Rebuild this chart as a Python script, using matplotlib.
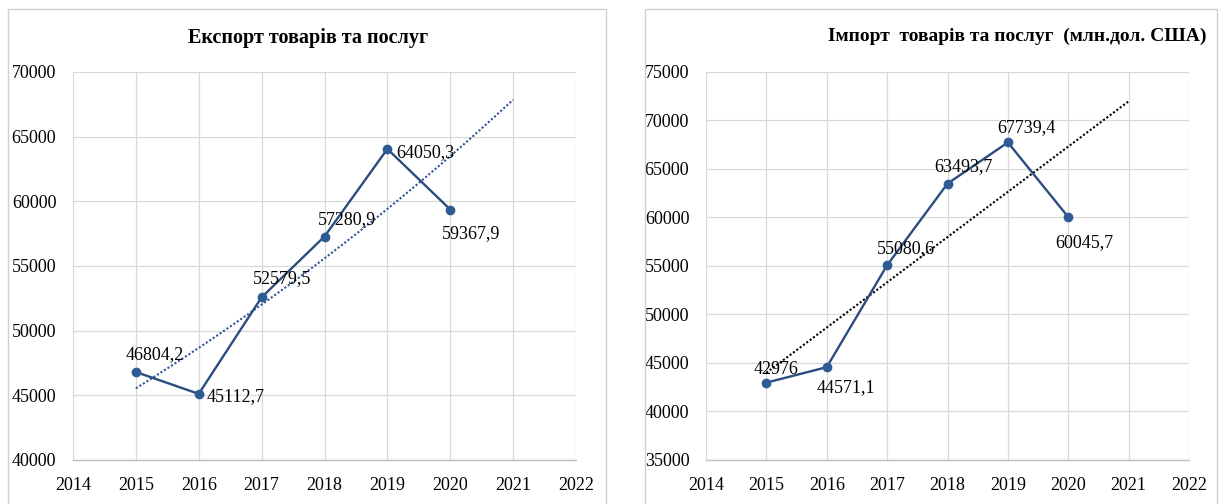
import numpy as np
import matplotlib
matplotlib.use("Agg")
import matplotlib.pyplot as plt
from matplotlib.patches import Rectangle

years = [2015, 2016, 2017, 2018, 2019, 2020]
export_vals = [46804.2, 45112.7, 52579.5, 57280.9, 64050.3, 59367.9]
import_vals = [42976, 44571.1, 55080.6, 63493.7, 67739.4, 60045.7]
export_labels = ["46804,2", "45112,7", "52579,5", "57280,9", "64050,3", "59367,9"]
import_labels = ["42976", "44571,1", "55080,6", "63493,7", "67739,4", "60045,7"]
x_ticks = [2014, 2015, 2016, 2017, 2018, 2019, 2020, 2021, 2022]
export_yticks = [40000, 45000, 50000, 55000, 60000, 65000, 70000]
import_yticks = [35000, 40000, 45000, 50000, 55000, 60000, 65000, 70000, 75000]
export_title = "Експорт товарів та послуг"
import_title = "Імпорт  товарів та послуг  (млн.дол. США)"

# label offsets in pixels (dx, dy)
export_offsets = [(19, 17), (37, -3), (20, 19), (22, 17), (38, -4), (21, -24)]
import_offsets = [(10, 13), (19, -20), (19, 17), (16, 17), (18, 15), (16, -26)]

W, H = 1221, 504
fig = plt.figure(figsize=(W / 100, H / 100), dpi=100)
fig.patch.set_facecolor("white")
plt.rcParams['font.family'] = ['Liberation Serif', 'DejaVu Serif']

# panel borders
for x0, x1 in [(8, 606), (645, 1217)]:
    fig.add_artist(Rectangle((x0 / W, 0 - 0.02), (x1 - x0) / W, (H - 9) / H + 0.02,
                             transform=fig.transFigure, fill=False,
                             edgecolor="#D0D0D0", linewidth=1.0))

line_c = "#2B4C7E"
mark_c = "#2F5B95"

def make_ax(px_left, px_right, yticks, vals, labels, offsets, title, title_x, title_y,
            title_ha, title_size, trend_kind, trend_color):
    ax = fig.add_axes([px_left / W, 1 - 460 / H, (px_right - px_left) / W, (460 - 72) / H])
    ax.set_xlim(x_ticks[0], x_ticks[-1])
    ax.set_ylim(yticks[0], yticks[-1])
    ax.set_xticks(x_ticks)
    ax.set_yticks(yticks)
    ax.set_xticklabels([str(t) for t in x_ticks])
    ax.set_yticklabels([str(t) for t in yticks])
    ax.tick_params(length=0, labelsize=13, colors="#000000")
    ax.tick_params(axis="y", pad=12)
    ax.tick_params(axis="x", pad=12)
    for s in ["top", "right", "left"]:
        ax.spines[s].set_visible(False)
    ax.spines["bottom"].set_color("#BFBFBF")
    ax.spines["bottom"].set_linewidth(1.0)
    ax.grid(True, color="#D9D9D9", linewidth=0.9)
    ax.set_axisbelow(True)

    x = np.array(years, dtype=float)
    y = np.array(vals, dtype=float)
    xi = x - x[0]
    xs = np.linspace(years[0], 2021, 100)
    if trend_kind == "exp":
        b, a = np.polyfit(xi, np.log(y), 1)
        ys = np.exp(a + b * (xs - x[0]))
    else:
        b, a = np.polyfit(xi, y, 1)
        ys = a + b * (xs - x[0])
    ax.plot(xs, ys, linestyle=(0, (1, 1.0)), color=trend_color, linewidth=1.5, zorder=2)

    ax.plot(years, vals, color=line_c, linewidth=1.7, zorder=3)
    ax.plot(years, vals, linestyle="none", marker="o", markersize=6,
            markerfacecolor=mark_c, markeredgecolor=mark_c, zorder=4)
    for xv, yv, lab, (dx, dy) in zip(years, vals, labels, offsets):
        ax.annotate(lab, (xv, yv), xytext=(dx, dy), textcoords="offset pixels",
                    ha="center", va="center", fontsize=13, color="#000000", zorder=5)
    fig.text(title_x / W, 1 - title_y / H, title, ha=title_ha, va="center",
             fontsize=title_size, fontweight="bold", color="#000000")
    return ax

make_ax(73, 576, export_yticks, export_vals, export_labels, export_offsets,
        export_title, 308, 38, "center", 14.5, "exp", "#2F5597")
make_ax(706, 1189, import_yticks, import_vals, import_labels, import_offsets,
        import_title, 1207, 36, "right", 14, "lin", "#000000")

fig.savefig("out.png", dpi=100)
